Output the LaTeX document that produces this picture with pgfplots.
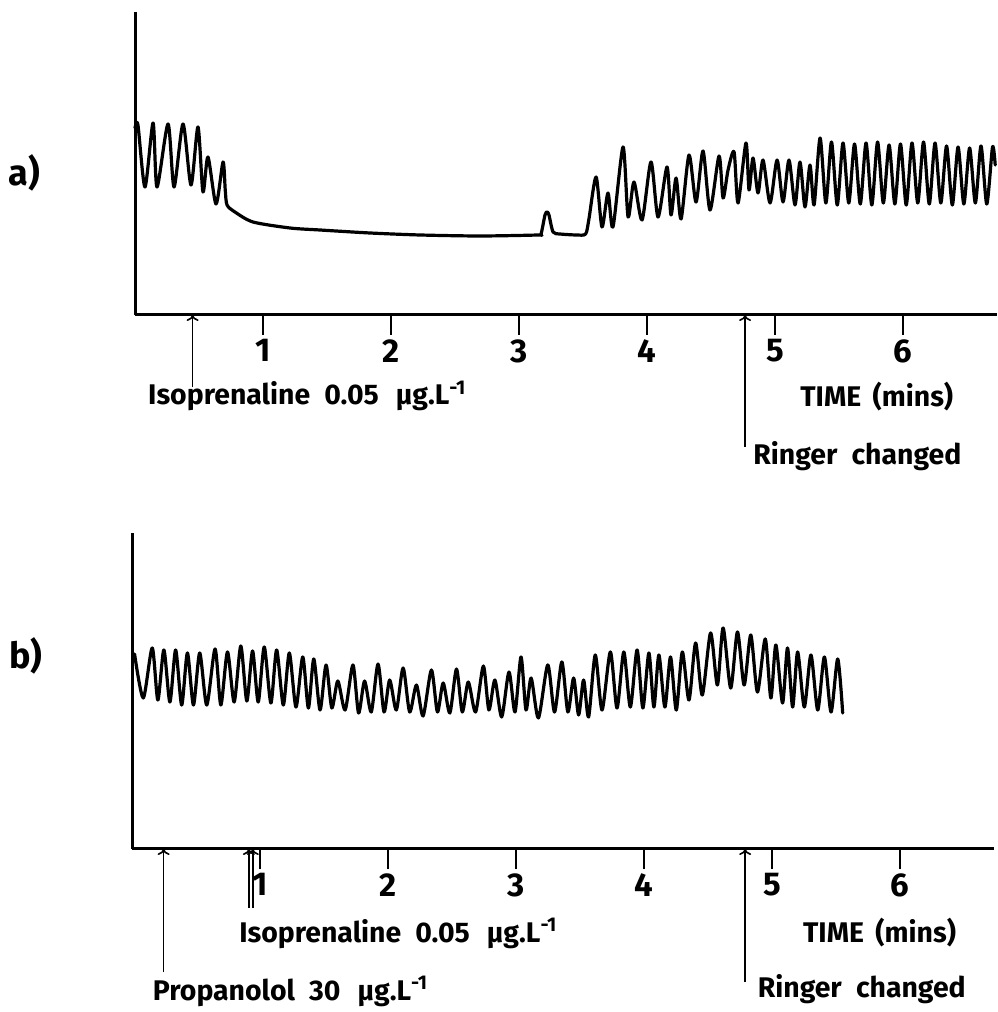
\documentclass[border=0pt]{standalone}
\usepackage{pgfplots}
\pgfplotsset{compat=1.18}
\usepackage{fontspec}
\setmainfont{Fira Sans}
\usetikzlibrary{arrows.meta}

\pgfplotsset{
  tracestyle/.style={
    width=431pt, scale only axis,
    xmin=0, xmax=6.734, ymin=0,
    axis x line=bottom, axis y line=left,
    axis line style={-, line width=1.5pt, black},
    xtick={1,2,3,4,5,6}, ytick=\empty,
    tick align=outside, major tick length=10pt,
    xmajorticks=true,
    xtick style={draw=black, line width=1.2pt},
    /pgf/number format/assume math mode=true,
    xticklabel style={font=\bfseries\fontsize{16.5}{16.5}\selectfont, inner sep=2pt},
    clip=false,
  },
  trace/.style={black, line width=1.6pt, smooth, tension=0.45, line join=round, line cap=round},
}
\tikzset{
  ann/.style={font=\bfseries\fontsize{14.2}{15}\selectfont, inner sep=0pt},
  arr/.style={line width=0.8pt, -{To[length=3pt,width=6pt]}},
  tk/.style={line width=1.2pt, black},
}

\begin{document}
\begin{tikzpicture}
\path[use as bounding box] (0,0) rectangle (498.5pt,506pt);

\node[font=\bfseries\fontsize{18}{18}\selectfont, inner sep=0pt] at (12pt,419.5pt) {a)};
\node[font=\bfseries\fontsize{18}{18}\selectfont, inner sep=0pt] at (13pt,178pt) {b)};

% ---------------- panel a ----------------
\begin{axis}[tracestyle, at={(67.5pt,348.5pt)}, anchor=south west,
  height=151.5pt, ymax=303]
\addplot[trace] coordinates {
(0,187) (0.023,190) (0.078,128) (0.141,192) (0.172,128) (0.258,191)
(0.305,128) (0.375,191) (0.4375,130) (0.492,188) (0.531,123) (0.570,158)
(0.633,111) (0.6875,153) (0.705,125) (0.719,110) (0.781,103) (0.922,93) (1.211,87)
(1.445,85) (1.836,82) (2.227,80) (2.695,79) (3.148,80) (3.172,81)
(3.203,100) (3.219,103) (3.234,100) (3.266,83) (3.320,81) (3.450,80) (3.520,81)
(3.545,95) (3.602,138) (3.648,88) (3.695,122) (3.734,88) (3.8125,168) (3.852,98)
(3.898,133) (3.961,95) (4.031,153) (4.086,98) (4.156,148) (4.1875,100)
(4.227,137) (4.266,96) (4.328,160) (4.383,113) (4.4375,164) (4.492,105)
(4.5625,159) (4.594,117) (4.633,145) (4.680,163) (4.711,112) (4.773,172)
(4.797,125) (4.828,157) (4.867,122) (4.906,155) (4.961,112) (5.016,155)
(5.0625,113) (5.109,155) (5.156,110) (5.195,153) (5.234,108) (5.273,150)
(5.305,110) (5.352,177) (5.397,112) (5.441,173) (5.486,110) (5.531,172)
(5.576,112) (5.621,171) (5.666,111) (5.711,172) (5.756,110) (5.801,173)
(5.846,112) (5.891,170) (5.936,111) (5.980,171) (6.025,110) (6.070,172)
(6.115,112) (6.160,173) (6.205,111) (6.250,172) (6.295,112) (6.340,169)
(6.385,110) (6.430,168) (6.475,111) (6.520,167) (6.565,112) (6.609,169)
(6.654,111) (6.699,168) (6.72,150)
};
\draw[tk] (axis cs:1,0) -- ++(0,-10pt);
\draw[tk] (axis cs:2,0) -- ++(0,-10pt);
\draw[tk] (axis cs:3,0) -- ++(0,-10pt);
\draw[tk] (axis cs:4,0) -- ++(0,-10pt);
\draw[tk] (axis cs:5,0) -- ++(0,-10pt);
\draw[tk] (axis cs:6,0) -- ++(0,-10pt);
\draw[arr] (axis cs:0.45,-72) -- (axis cs:0.45,0);
\node[ann, anchor=base west] at (axis cs:0.10,-90) {Isoprenaline\hspace{0.5em}0.05\hspace{0.6em}µg.L\textsuperscript{-1}};
\draw[arr] (axis cs:4.766,-132) -- (axis cs:4.766,0);
\node[ann, anchor=base west] at (axis cs:5.195,-92) {TIME\hspace{0.4em}(mins)};
\node[ann, anchor=base west] at (axis cs:4.828,-150) {Ringer\hspace{0.5em}changed};
\end{axis}

% ---------------- panel b ----------------
\begin{axis}[tracestyle, at={(66pt,81.5pt)}, anchor=south west,
  height=158pt, ymax=316]
\addplot[trace] coordinates {
(0.020,195) (0.088,151) (0.158,201) (0.202,149) (0.249,199) (0.296,147)
(0.341,199) (0.388,144) (0.433,196) (0.480,144) (0.529,196) (0.584,144)
(0.649,200) (0.694,144) (0.746,197) (0.798,147) (0.850,203) (0.897,148)
(0.942,198) (0.986,147) (1.033,202) (1.085,146) (1.130,199) (1.182,144)
(1.229,196) (1.281,142) (1.334,192) (1.378,141) (1.420,190) (1.469,139)
(1.516,184) (1.561,141) (1.608,168) (1.665,139) (1.726,184) (1.770,136)
(1.817,168) (1.869,137) (1.922,185) (1.969,137) (2.013,169) (2.065,139)
(2.118,181) (2.169,137) (2.222,164) (2.274,133) (2.339,179) (2.386,137)
(2.431,166) (2.483,136) (2.535,180) (2.580,137) (2.627,167) (2.684,137)
(2.745,183) (2.788,139) (2.835,169) (2.888,132) (2.945,177) (2.992,137)
(3.039,192) (3.078,139) (3.118,171) (3.175,131) (3.248,184) (3.301,137)
(3.358,187) (3.405,137) (3.450,171) (3.489,134) (3.528,169) (3.567,132)
(3.619,194) (3.672,139) (3.737,197) (3.789,141) (3.842,197) (3.893,142)
(3.946,199) (3.991,141) (4.038,196) (4.077,142) (4.116,194) (4.163,142)
(4.207,192) (4.252,139) (4.299,197) (4.351,149) (4.403,206) (4.455,154)
(4.520,216) (4.573,164) (4.618,221) (4.677,161) (4.730,217) (4.782,164)
(4.834,214) (4.886,157) (4.947,210) (4.991,151) (5.030,204) (5.082,146)
(5.121,201) (5.161,142) (5.200,197) (5.252,142) (5.304,194) (5.357,139)
(5.409,192) (5.461,137) (5.513,190) (5.552,136)
};
\draw[tk] (axis cs:1,0) -- ++(0,-10pt);
\draw[tk] (axis cs:2,0) -- ++(0,-10pt);
\draw[tk] (axis cs:3,0) -- ++(0,-10pt);
\draw[tk] (axis cs:4,0) -- ++(0,-10pt);
\draw[tk] (axis cs:5,0) -- ++(0,-10pt);
\draw[tk] (axis cs:6,0) -- ++(0,-10pt);
\draw[arr] (axis cs:0.247,-123) -- (axis cs:0.247,0);
\node[ann, anchor=base west] at (axis cs:0.16,-151) {Propanolol\hspace{0.5em}30\hspace{0.6em}µg.L\textsuperscript{-1}};
\draw[arr] (axis cs:0.913,-59) -- (axis cs:0.913,0);
\draw[arr] (axis cs:0.944,-59) -- (axis cs:0.944,0);
\node[ann, anchor=base west] at (axis cs:0.835,-93) {Isoprenaline\hspace{0.5em}0.05\hspace{0.6em}µg.L\textsuperscript{-1}};
\draw[arr] (axis cs:4.79,-133) -- (axis cs:4.79,0);
\node[ann, anchor=base west] at (axis cs:5.24,-93) {TIME\hspace{0.4em}(mins)};
\node[ann, anchor=base west] at (axis cs:4.886,-148) {Ringer\hspace{0.5em}changed};
\end{axis}
\end{tikzpicture}
\end{document}
